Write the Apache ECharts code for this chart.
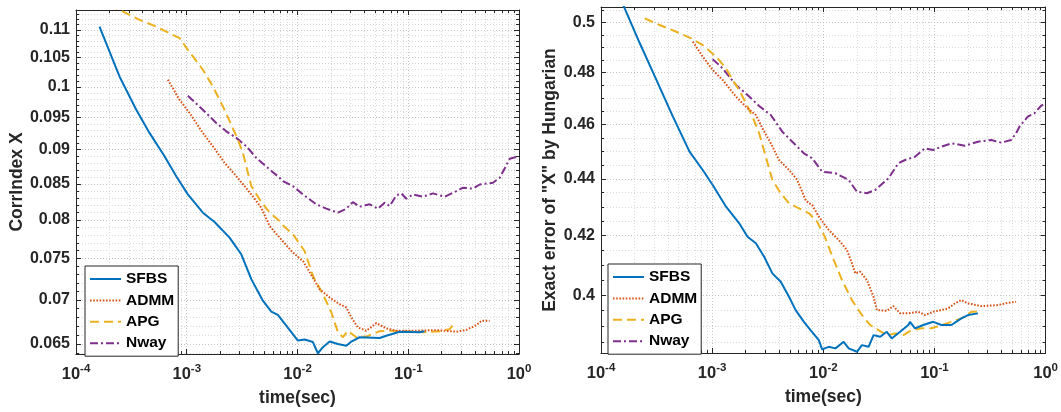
<!DOCTYPE html>
<html><head><meta charset="utf-8">
<script src="https://cdn.jsdelivr.net/npm/echarts@6/dist/echarts.min.js"></script>
<style>html,body{margin:0;padding:0;background:#fff}#c{width:1061px;height:412px}</style>
</head><body><div id="c"></div>
<script>
// ---------- DATA ----------
const seriesNames = ['SFBS', 'ADMM', 'APG', 'Nway'];
const xTickValues = [1e-4, 1e-3, 1e-2, 1e-1, 1];
const leftYTicks = [0.065, 0.07, 0.075, 0.08, 0.085, 0.09, 0.095, 0.1, 0.105, 0.11];
const rightYTicks = [0.4, 0.42, 0.44, 0.46, 0.48, 0.5];
const xTitle = 'time(sec)';
const leftYTitle = 'CorrIndex X';
const rightYTitle = 'Exact error of "X" by Hungarian';

// Left panel: CorrIndex X
const leftSFBS_t = [1.63e-4, 2.47e-4, 3.50e-4, 4.61e-4, 6.30e-4, 8.04e-4, 1.023e-3, 1.398e-3, 1.782e-3, 2.435e-3, 3.107e-3, 3.825e-3, 4.868e-3, 5.80e-3, 6.65e-3, 8.79e-3, 1.008e-2, 1.159e-2, 1.377e-2, 1.528e-2, 1.696e-2, 1.950e-2, 2.317e-2, 2.759e-2, 3.062e-2, 3.639e-2, 5.515e-2, 6.34e-2, 8.36e-2, 0.1268, 0.140];
const leftSFBS_v = [0.1106, 0.10175, 0.09624, 0.09257, 0.08903, 0.0861, 0.08351, 0.08099, 0.07973, 0.07768, 0.07554, 0.07246, 0.06989, 0.06862, 0.06824, 0.0663, 0.06538, 0.06549, 0.06521, 0.0640, 0.06465, 0.06527, 0.0650, 0.06482, 0.06527, 0.06574, 0.06566, 0.06591, 0.06635, 0.0663, 0.0664];

const leftADMM_t = [6.75e-4, 8.61e-4, 1.06e-3, 1.398e-3, 1.721e-3, 2.195e-3, 2.801e-3, 3.825e-3, 4.71e-3, 5.60e-3, 6.89e-3, 9.09e-3, 1.119e-2, 1.242e-2, 1.583e-2, 1.95e-2, 2.401e-2, 2.759e-2, 3.062e-2, 3.512e-2, 4.18e-2, 5.15e-2, 6.34e-2, 7.81e-2, 0.1103, 0.1794, 0.272, 0.3348, 0.4123, 0.4575, 0.5436];
const leftADMM_v = [0.1012, 0.09786, 0.09571, 0.09257, 0.09053, 0.08805, 0.0861, 0.08351, 0.08167, 0.0792, 0.07768, 0.07575, 0.07469, 0.07366, 0.07124, 0.07026, 0.06948, 0.0691, 0.06796, 0.06683, 0.06645, 0.06731, 0.06672, 0.06645, 0.06645, 0.06653, 0.06635, 0.06656, 0.06709, 0.06757, 0.06757];

const leftAPG_t = [2.007e-4, 3.746e-4, 5.305e-4, 6.99e-4, 8.61e-4, 1.023e-3, 1.398e-3, 1.721e-3, 2.119e-3, 2.523e-3, 2.894e-3, 3.211e-3, 3.825e-3, 4.546e-3, 5.60e-3, 6.89e-3, 7.38e-3, 9.09e-3, 1.159e-2, 1.377e-2, 1.696e-2, 2.02e-2, 2.317e-2, 2.571e-2, 2.853e-2, 3.398e-2, 4.18e-2, 5.515e-2, 6.79e-2, 9.61e-2, 0.1358, 0.1921, 0.2366, 0.2534];
const leftAPG_v = [0.1147, 0.11186, 0.11061, 0.1094, 0.10849, 0.10639, 0.1029, 0.10006, 0.09677, 0.09386, 0.09154, 0.08953, 0.08468, 0.08282, 0.08099, 0.07987, 0.0793, 0.07811, 0.07596, 0.07286, 0.07067, 0.06855, 0.0663, 0.06574, 0.06645, 0.06574, 0.06581, 0.06641, 0.06645, 0.06641, 0.0663, 0.06641, 0.06664, 0.06709];

const leftNway_t = [1.023e-3, 1.398e-3, 1.847e-3, 2.273e-3, 2.801e-3, 3.447e-3, 4.243e-3, 5.60e-3, 6.89e-3, 7.38e-3, 9.09e-3, 1.119e-2, 1.478e-2, 1.82e-2, 2.317e-2, 2.759e-2, 3.166e-2, 3.639e-2, 4.48e-2, 5.325e-2, 6.12e-2, 6.79e-2, 7.81e-2, 8.66e-2, 9.61e-2, 0.1103, 0.1358, 0.1671, 0.2132, 0.272, 0.3119, 0.3842, 0.4416, 0.5822, 0.6695, 0.7428, 0.8241, 0.9938];
const leftNway_v = [0.09851, 0.09624, 0.09413, 0.09282, 0.0918, 0.09053, 0.08879, 0.08707, 0.08587, 0.08538, 0.08468, 0.08351, 0.08213, 0.08154, 0.08099, 0.08154, 0.08244, 0.08181, 0.08213, 0.08154, 0.08236, 0.08189, 0.08337, 0.08365, 0.08291, 0.08351, 0.08319, 0.08365, 0.08319, 0.08397, 0.08445, 0.08431, 0.08491, 0.08515, 0.08587, 0.0872, 0.08864, 0.08903];

// Right panel: Exact error of "X" by Hungarian
const rightSFBS_t = [1.479e-4, 2.234e-4, 3.15e-4, 4.436e-4, 6.256e-4, 8.23e-4, 1.011e-3, 1.333e-3, 1.753e-3, 2.08e-3, 2.474e-3, 2.935e-3, 3.481e-3, 4.14e-3, 4.912e-3, 5.64e-3, 6.69e-3, 7.68e-3, 9.11e-3, 9.76e-3, 1.12e-2, 1.286e-2, 1.525e-2, 1.691e-2, 2.007e-2, 2.224e-2, 2.554e-2, 2.83e-2, 3.25e-2, 3.723e-2, 4.126e-2, 4.906e-2, 5.822e-2, 6.03e-2, 6.68e-2, 7.93e-2, 9.745e-2, 0.1156, 0.1421, 0.1746, 0.2004, 0.2463];
const rightSFBS_v = [0.5105, 0.49165, 0.4771, 0.46296, 0.44987, 0.44318, 0.43776, 0.43005, 0.42423, 0.4196, 0.41734, 0.41276, 0.40718, 0.40439, 0.39944, 0.39511, 0.39134, 0.38869, 0.38552, 0.38259, 0.38341, 0.38291, 0.38498, 0.38291, 0.38185, 0.38394, 0.38341, 0.3871, 0.38656, 0.38815, 0.38605, 0.38815, 0.39031, 0.39134, 0.38926, 0.39031, 0.39134, 0.39031, 0.39031, 0.39245, 0.39352, 0.39406];

const rightADMM_t = [6.70e-4, 8.23e-4, 1.011e-3, 1.243e-3, 1.427e-3, 1.638e-3, 2.012e-3, 2.474e-3, 2.834e-3, 3.368e-3, 3.997e-3, 4.912e-3, 5.83e-3, 6.93e-3, 7.42e-3, 7.94e-3, 9.11e-3, 1.12e-2, 1.376e-2, 1.633e-2, 1.81e-2, 1.941e-2, 2.152e-2, 2.465e-2, 2.83e-2, 3.03e-2, 3.723e-2, 4.274e-2, 4.906e-2, 5.822e-2, 7.155e-2, 8.21e-2, 9.745e-2, 0.1328, 0.1524, 0.1746, 0.2004, 0.2636, 0.372, 0.4571, 0.5422];
const rightADMM_v = [0.4923, 0.48629, 0.48102, 0.4771, 0.47385, 0.4706, 0.46676, 0.46359, 0.45857, 0.45297, 0.44682, 0.44318, 0.43956, 0.43241, 0.43125, 0.43064, 0.42653, 0.42191, 0.41846, 0.41504, 0.41055, 0.40718, 0.40773, 0.40496, 0.39944, 0.39511, 0.39488, 0.3964, 0.39406, 0.39406, 0.39456, 0.39352, 0.39456, 0.39566, 0.39728, 0.39836, 0.39728, 0.3964, 0.39673, 0.39748, 0.3978];

const rightAPG_t = [2.475e-4, 3.373e-4, 4.757e-4, 6.48e-4, 8.23e-4, 1.085e-3, 1.333e-3, 1.527e-3, 1.753e-3, 2.012e-3, 2.306e-3, 2.647e-3, 3.04e-3, 3.481e-3, 4.14e-3, 4.912e-3, 6.036e-3, 7.42e-3, 8.80e-3, 1.03e-2, 1.242e-2, 1.473e-2, 1.81e-2, 2.224e-2, 2.645e-2, 3.137e-2, 3.723e-2, 4.426e-2, 5.253e-2, 6.23e-2, 7.66e-2, 9.41e-2, 0.1156, 0.1421, 0.1746, 0.2146, 0.2463];
const rightAPG_v = [0.50181, 0.49906, 0.49633, 0.49365, 0.49094, 0.48629, 0.48168, 0.4771, 0.47319, 0.46806, 0.46296, 0.4567, 0.44802, 0.43956, 0.4348, 0.43125, 0.42949, 0.42773, 0.42479, 0.4196, 0.41166, 0.40496, 0.39836, 0.39352, 0.39031, 0.38869, 0.3871, 0.38764, 0.3871, 0.38869, 0.38926, 0.38926, 0.39031, 0.39134, 0.39245, 0.39456, 0.39456];

const rightNway_t = [1.011e-3, 1.243e-3, 1.638e-3, 2.08e-3, 2.647e-3, 3.368e-3, 4.278e-3, 5.258e-3, 6.69e-3, 7.94e-3, 9.76e-3, 1.286e-2, 1.691e-2, 2.007e-2, 2.465e-2, 2.932e-2, 3.856e-2, 4.738e-2, 5.44e-2, 6.68e-2, 8.21e-2, 9.745e-2, 0.1156, 0.1421, 0.1873, 0.2463, 0.3239, 0.3981, 0.4893, 0.5422, 0.5816, 0.6902, 0.7923, 0.9078, 1.0];
const rightNway_v = [0.48526, 0.48168, 0.47513, 0.47125, 0.46704, 0.46359, 0.4573, 0.45357, 0.44928, 0.44744, 0.44257, 0.44199, 0.43956, 0.43537, 0.4348, 0.43597, 0.44018, 0.44561, 0.44682, 0.44802, 0.45112, 0.4505, 0.45172, 0.45297, 0.45209, 0.45357, 0.45421, 0.45321, 0.45421, 0.4567, 0.45918, 0.46296, 0.46424, 0.46704, 0.46806];

// ---------- STYLE / BUILD ----------
const FONT = '"Liberation Sans", Arial, Helvetica, sans-serif';
const INK = '#262626';
const colors = ['#0072BD', '#D95319', '#EDB120', '#7E2F8E'];
const dashes = ['solid', [1.6, 1.6], [9, 5], [8, 3, 2, 3]];

function pairs(t, v) { return t.map((x, i) => [x, v[i]]); }
function minorRange(lo, hi, step, majors) {
  const out = []; const n = Math.round((hi - lo) / step);
  for (let i = 0; i <= n; i++) {
    const v = +(lo + i * step).toFixed(6);
    if (!majors.some(m => Math.abs(m - v) < 1e-9)) out.push(v);
  }
  return out;
}
const xMinor = [];
for (let e = -4; e < 0; e++) for (let m = 2; m <= 9; m++) xMinor.push(+(m * Math.pow(10, e)).toPrecision(3));
const leftYMinor = minorRange(0.064, 0.113, 0.001, leftYTicks);
const rightYMinor = minorRange(0.385, 0.505, 0.005, rightYTicks);

const majorGrid = { show: true, lineStyle: { color: '#c4c4c4', type: [1, 2], width: 1 } };
const minorGrid = { show: true, lineStyle: { color: '#dadada', type: [1, 2], width: 1 } };
const axLine = { show: true, onZero: false, lineStyle: { color: INK, width: 1 } };

function makeX(g) {
  const base = { type: 'log', logBase: 10, gridIndex: g, min: 1e-4, max: 1, axisPointer: { show: false } };
  return [
    Object.assign({}, base, {
      position: 'bottom', name: xTitle, nameLocation: 'middle', nameGap: 35,
      nameTextStyle: { fontFamily: FONT, fontWeight: 'bold', fontSize: 17.5, color: INK },
      axisLine: axLine,
      axisTick: { show: true, inside: true, length: 5, customValues: xTickValues, lineStyle: { color: INK } },
      axisLabel: {
        customValues: xTickValues, margin: 9, color: INK,
        formatter: v => '{b|10}{s|' + Math.round(Math.log10(v)) + '}',
        rich: {
          b: { fontFamily: FONT, fontWeight: 'bold', fontSize: 16.5, color: INK, lineHeight: 20, verticalAlign: 'bottom' },
          s: { fontFamily: FONT, fontWeight: 'bold', fontSize: 11.5, color: INK, lineHeight: 20, verticalAlign: 'top' }
        }
      },
      splitLine: majorGrid, minorTick: { show: false }
    }),
    Object.assign({}, base, {
      position: 'bottom', axisLine: { show: false },
      axisTick: { show: true, inside: true, length: 3, customValues: xMinor, lineStyle: { color: INK } },
      axisLabel: { show: false }, splitLine: minorGrid
    }),
    Object.assign({}, base, {
      position: 'top', axisLine: axLine,
      axisTick: { show: true, inside: true, length: 5, customValues: xTickValues, lineStyle: { color: INK } },
      axisLabel: { show: false }, splitLine: { show: false }
    }),
    Object.assign({}, base, {
      position: 'top', axisLine: { show: false },
      axisTick: { show: true, inside: true, length: 3, customValues: xMinor, lineStyle: { color: INK } },
      axisLabel: { show: false }, splitLine: { show: false }
    })
  ];
}
function makeY(g, min, max, majors, minors, title, gap) {
  const base = { type: 'log', logBase: 10, gridIndex: g, min: min, max: max, axisPointer: { show: false } };
  return [
    Object.assign({}, base, {
      position: 'left', name: title, nameLocation: 'middle', nameGap: gap,
      nameTextStyle: { fontFamily: FONT, fontWeight: 'bold', fontSize: 17.5, color: INK },
      axisLine: axLine,
      axisTick: { show: true, inside: true, length: 5, customValues: majors, lineStyle: { color: INK } },
      axisLabel: {
        customValues: majors, margin: 6, color: INK, fontFamily: FONT, fontWeight: 'bold', fontSize: 16,
        formatter: v => String(+(+v).toFixed(4))
      },
      splitLine: majorGrid
    }),
    Object.assign({}, base, {
      position: 'left', axisLine: { show: false },
      axisTick: { show: true, inside: true, length: 3, customValues: minors, lineStyle: { color: INK } },
      axisLabel: { show: false }, splitLine: minorGrid
    }),
    Object.assign({}, base, {
      position: 'right', axisLine: axLine,
      axisTick: { show: true, inside: true, length: 5, customValues: majors, lineStyle: { color: INK } },
      axisLabel: { show: false }, splitLine: { show: false }
    }),
    Object.assign({}, base, {
      position: 'right', axisLine: { show: false },
      axisTick: { show: true, inside: true, length: 3, customValues: minors, lineStyle: { color: INK } },
      axisLabel: { show: false }, splitLine: { show: false }
    })
  ];
}

const panelData = [
  [pairs(leftSFBS_t, leftSFBS_v), pairs(leftADMM_t, leftADMM_v), pairs(leftAPG_t, leftAPG_v), pairs(leftNway_t, leftNway_v)],
  [pairs(rightSFBS_t, rightSFBS_v), pairs(rightADMM_t, rightADMM_v), pairs(rightAPG_t, rightAPG_v), pairs(rightNway_t, rightNway_v)]
];
const series = [];
panelData.forEach((arr, g) => {
  arr.forEach((d, i) => {
    series.push({
      type: 'line', name: seriesNames[i], xAxisIndex: g * 4, yAxisIndex: g * 4,
      data: d, symbol: 'none', showSymbol: false, clip: true, z: 3 + (3 - i),
      lineStyle: { color: colors[i], width: 2, type: dashes[i], cap: 'butt' },
      itemStyle: { color: colors[i] }
    });
  });
});

function makeLegend(left, top) {
  return {
    orient: 'vertical', left: left, top: top, data: seriesNames,
    itemWidth: 31, itemHeight: 14, itemGap: 5.4, padding: [5, 4, 5, 4],
    borderColor: INK, borderWidth: 1, backgroundColor: '#ffffff', borderRadius: 0,
    selectedMode: false,
    itemStyle: { opacity: 0, borderWidth: 0 },
    textStyle: { fontFamily: FONT, fontWeight: 'bold', fontSize: 15.5, color: '#000' }
  };
}

const chart = echarts.init(document.getElementById('c'), null, { renderer: 'canvas' });
chart.setOption({
  animation: false,
  backgroundColor: '#ffffff',
  grid: [
    { left: 76, top: 10, width: 443, height: 345, show: false },
    { left: 601, top: 7, width: 447, height: 346, show: false }
  ],
  xAxis: makeX(0).concat(makeX(1)),
  yAxis: makeY(0, 0.06392, 0.11373, leftYTicks, leftYMinor, leftYTitle, 50)
    .concat(makeY(1, 0.38147, 0.50648, rightYTicks, rightYMinor, rightYTitle, 42)),
  legend: [makeLegend(85, 266), makeLegend(608, 264)],
  series: series
});
</script>
</body></html>
